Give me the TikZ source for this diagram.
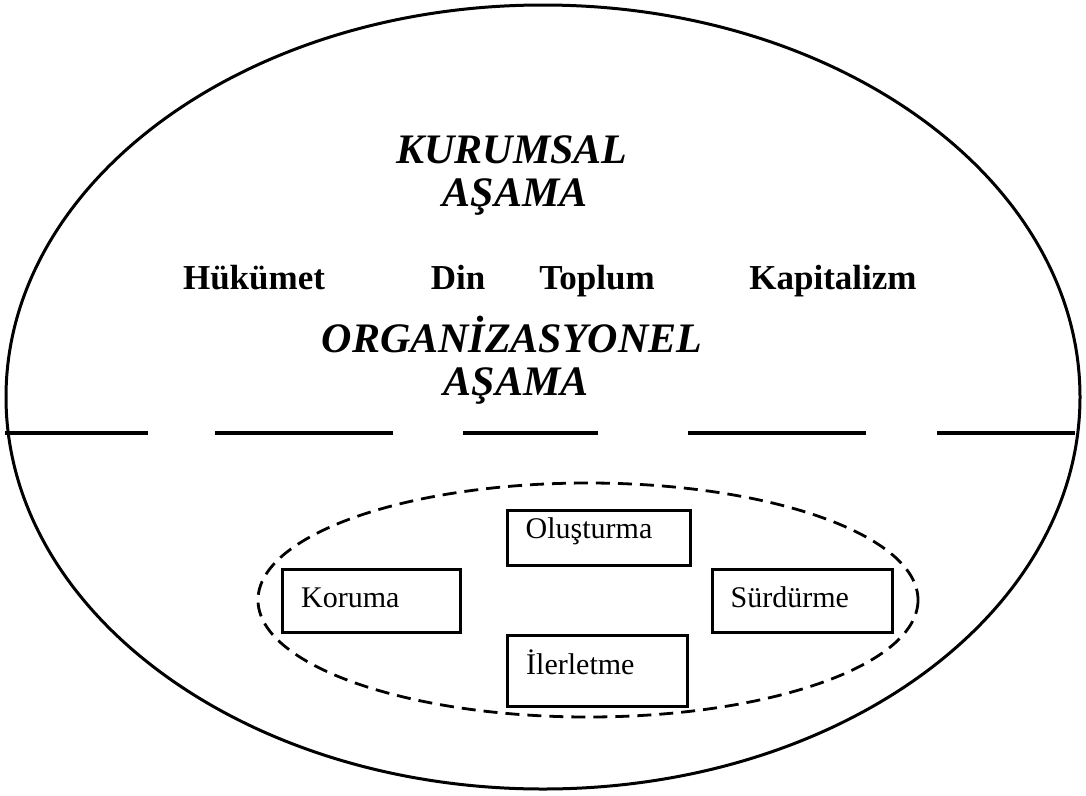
\documentclass[tikz,border=0pt]{standalone}
\usepackage{fontspec}
\setmainfont{Liberation Serif}
\usetikzlibrary{calc}
\tikzset{
  outer/.style={line width=3pt},
  inner/.style={line width=2.8pt, dash pattern=on 14pt off 8pt},
  divider/.style={line width=3.2pt},
  stage/.style={font=\fontsize{42}{46}\selectfont\bfseries\itshape, inner sep=0pt, anchor=base},
  field/.style={font=\fontsize{35}{40}\selectfont\bfseries, inner sep=0pt, anchor=base},
  box/.style={draw, line width=3pt, rectangle, inner sep=0pt},
  boxtext/.style={font=\fontsize{30}{34}\selectfont, inner sep=0pt, anchor=base west},
}
\begin{document}
\begin{tikzpicture}[x=1pt,y=-1pt]
\useasboundingbox (0,0) rectangle (1086,795);

% outer boundary
\draw[outer] (543,397) ellipse [x radius=537, y radius=392];

% stage headings
\node[stage] (kur) at (512,163) {KURUMSAL};
\node[stage] (kasama) at (515,206) {AŞAMA};
\node[stage] (org) at (512,352) {ORGANİZASYONEL};
\node[stage] (oasama) at (516,395) {AŞAMA};

% institutional fields
\node[field] (huk) at (254,289) {Hükümet};
\node[field] (din) at (458,289) {Din};
\node[field] (top) at (597,289) {Toplum};
\node[field] (kap) at (833,289) {Kapitalizm};

% broken dividing line
\coordinate (d1a) at (5,433);   \coordinate (d1b) at (148,433);
\coordinate (d2a) at (215,433); \coordinate (d2b) at (393,433);
\coordinate (d3a) at (463,433); \coordinate (d3b) at (598,433);
\coordinate (d4a) at (688,433); \coordinate (d4b) at (866,433);
\coordinate (d5a) at (937,433); \coordinate (d5b) at (1075,433);
\foreach \s in {1,...,5} \draw[divider] (d\s a) -- (d\s b);

% organisational cycle
\draw[inner] (588,600) ellipse [x radius=330, y radius=117];

\node[box, minimum width=183pt, minimum height=55pt] (olus) at (598.5,537.5) {};
\node[box, minimum width=178pt, minimum height=63pt] (kor) at (371.5,600.5) {};
\node[box, minimum width=180pt, minimum height=63pt] (sur) at (802,600.5) {};
\node[box, minimum width=180pt, minimum height=71pt] (ile) at (597.5,670.5) {};

\node[boxtext] at ($(olus.north west)+(20,30)$) {Oluşturma};
\node[boxtext] at ($(kor.north west)+(20,40)$) {Koruma};
\node[boxtext] at ($(sur.north west)+(20,40)$) {Sürdürme};
\node[boxtext] at ($(ile.north west)+(20,41)$) {İlerletme};
\end{tikzpicture}
\end{document}
